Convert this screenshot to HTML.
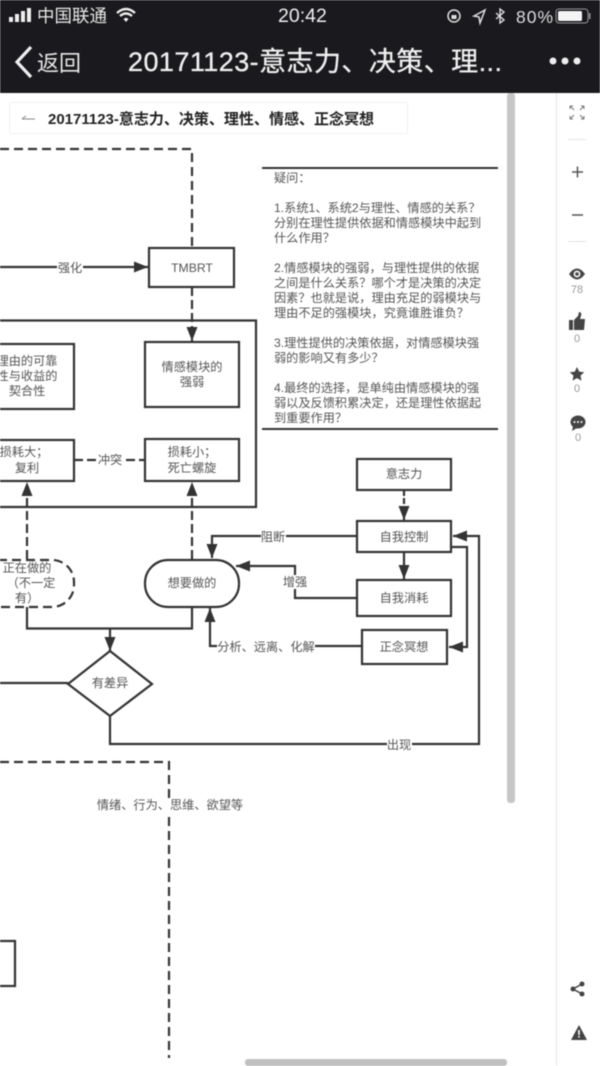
<!DOCTYPE html>
<html lang="zh"><head><meta charset="utf-8"><title>20171123</title>
<style>
html,body{margin:0;padding:0;background:#fff}
body{width:600px;height:1066px;overflow:hidden}
svg{display:block;filter:blur(.45px)}
text{font-family:"Liberation Sans","Noto Sans CJK SC",sans-serif}
</style></head><body>
<svg width="600" height="1066" viewBox="0 0 600 1066" xmlns="http://www.w3.org/2000/svg">
<defs>
<marker id="a" markerWidth="16" markerHeight="12" refX="14" refY="5.500" orient="auto" markerUnits="userSpaceOnUse"><path d="M0 0L14 5.500L0 11Z" fill="#333"/></marker>
</defs>
<rect width="600" height="1066" fill="#fff"/>
<!-- header -->
<rect width="600" height="93" fill="#1a1a1e"/>
<rect x="9" y="17" width="4" height="5" fill="#eee"/><rect x="15" y="14" width="4" height="8" fill="#eee"/><rect x="21" y="11" width="4" height="11" fill="#eee"/><rect x="27" y="8" width="4" height="14" fill="#eee"/>
<text x="37" y="22" font-size="17.500" fill="#e8e8e8">中国联通</text>
<path d="M117 13q9-8 18 0M120 16q6-5 12 0" fill="none" stroke="#eee" stroke-width="2.400"/><path d="M123.500 19q2.500-2.500 5 0l-2.500 3z" fill="#eee"/>
<text x="278" y="22" font-size="19.500" fill="#eee">20:42</text>
<circle cx="454" cy="16" r="6" fill="none" stroke="#ddd" stroke-width="1.500"/><rect x="451.500" y="15" width="5" height="4" fill="#ddd"/>
<path d="M485 10L474 16l5 1 1 6z" fill="none" stroke="#ddd" stroke-width="1.500"/>
<path d="M496 13l8 7-4 3V9l4 3-8 7" fill="none" stroke="#ddd" stroke-width="1.400"/>
<text x="516" y="23" font-size="17.500" fill="#ddd" textLength="37" lengthAdjust="spacing">80%</text>
<rect x="556" y="9" width="32" height="14" rx="3" fill="none" stroke="#999" stroke-width="1"/><rect x="558" y="11" width="24" height="10" rx="1.500" fill="#f4f4f4"/><rect x="589" y="13" width="1.500" height="6" fill="#999"/>
<path d="M31 47L17 62l14 15" fill="none" stroke="#eee" stroke-width="3.200"/>
<text x="37" y="71" font-size="22" fill="#e6e6e6">返回</text>
<text x="128" y="71" font-size="27" fill="#f0f0f0" stroke="#f0f0f0" stroke-width=".3" textLength="374" lengthAdjust="spacing">20171123-意志力、决策、理...</text>
<circle cx="553" cy="61" r="3.500" fill="#eee"/><circle cx="565" cy="61" r="3.500" fill="#eee"/><circle cx="577" cy="61" r="3.500" fill="#eee"/>
<!-- title card -->
<rect x="9.500" y="102.500" width="398" height="31" rx="2" fill="#fff" stroke="#efefef"/>
<path d="M22 119h13M22 119l4-3" fill="none" stroke="#888" stroke-width="1"/>
<text x="48" y="124" font-size="15" font-weight="bold" fill="#222" textLength="326" lengthAdjust="spacing">20171123-意志力、决策、理性、情感、正念冥想</text>
<!-- scrollbars and rail -->
<rect x="507" y="93" width="8" height="710" rx="3" fill="#c6c6c6"/>
<rect x="245" y="1059" width="262" height="7" rx="3" fill="#c0c0c0"/>
<rect x="556" y="93" width="1" height="973" fill="#e6e6e6"/>
<!-- connectors -->
<g fill="none" stroke="#333" stroke-width="2.200">
<path d="M0 149H192V248" stroke-dasharray="9 5"/>
<path d="M0 267H148" marker-end="url(#a)"/>
<path d="M192 287V341" stroke-dasharray="9 4" marker-end="url(#a)"/>
<path d="M0 320.500H256V507H0"/>
<path d="M74 460H145" stroke-dasharray="9 4"/>
<path d="M27 559V482" stroke-dasharray="9 4" marker-end="url(#a)"/>
<path d="M192 559V482" stroke-dasharray="9 4" marker-end="url(#a)"/>
<path d="M27 607V628.500H192V607"/>
<path d="M110 628V651" marker-end="url(#a)"/>
<path d="M0 683H68"/>
<path d="M110 716V744H479V536H453" marker-end="url(#a)"/>
<path d="M404 490V520" stroke-dasharray="6 2" marker-end="url(#a)"/>
<path d="M404 552V579" marker-end="url(#a)"/>
<path d="M357 536H212V558" marker-end="url(#a)"/>
<path d="M357 598H295V566H236" marker-end="url(#a)"/>
<path d="M362 646H210V608" marker-end="url(#a)"/>
<path d="M451 547H467V647H449" marker-end="url(#a)"/>
<path d="M0 762H169V1058" stroke-dasharray="9 5"/>
<path d="M262 168H498M262 429H498" stroke-width="2"/>
</g>
<!-- nodes -->
<g fill="#fff" stroke="#333" stroke-width="2.200">
<rect x="149" y="248" width="85" height="39"/>
<rect x="145" y="342" width="94" height="65"/>
<rect x="-10" y="344" width="84" height="65"/>
<rect x="-10" y="440" width="84" height="41"/>
<rect x="145" y="439" width="94" height="42"/>
<rect x="-24" y="560" width="98" height="47" rx="22" stroke-dasharray="9 5"/>
<rect x="145" y="560" width="94" height="47" rx="23"/>
<path d="M110 651L152 684L110 716L68 684Z"/>
<rect x="357" y="459" width="94" height="31"/>
<rect x="357" y="521" width="94" height="31"/>
<rect x="357" y="580" width="94" height="36"/>
<rect x="362" y="630" width="85" height="34"/>
<rect x="-10" y="941" width="25" height="45"/>
</g>
<!-- labels -->
<g font-size="12.200" fill="#555" text-anchor="middle">
<g><rect x="57" y="260" width="26" height="14" fill="#fff"/><text x="70" y="272">强化</text></g>
<text x="192" y="272">TMBRT</text>
<text x="192" y="371">情感模块的</text><text x="192" y="386">强弱</text>
<text x="27" y="365">理由的可靠</text><text x="27" y="380">性与收益的</text><text x="27" y="395">契合性</text>
<text x="24" y="456">损耗大；</text><text x="27" y="472">复利</text>
<text x="192" y="456">损耗小；</text><text x="192" y="472">死亡螺旋</text>
<rect x="97" y="453" width="26" height="14" fill="#fff"/><text x="110" y="464">冲突</text>
<text x="27" y="572">正在做的</text><text x="31" y="587">（不一定</text><text x="27" y="602">有）</text>
<text x="192" y="587">想要做的</text>
<text x="110" y="687">有差异</text>
<text x="404" y="478">意志力</text>
<text x="404" y="541">自我控制</text>
<text x="404" y="602">自我消耗</text>
<text x="404" y="651">正念冥想</text>
<rect x="261" y="529" width="25" height="14" fill="#fff"/><text x="273" y="541">阻断</text>
<rect x="283" y="575" width="25" height="14" fill="#fff"/><text x="295" y="586">增强</text>
<rect x="217" y="639" width="98" height="14" fill="#fff"/><text x="266" y="651">分析、远离、化解</text>
<rect x="387" y="737" width="25" height="14" fill="#fff"/><text x="399" y="749">出现</text>
<rect x="97" y="798" width="146" height="14" fill="#fff"/><text x="170" y="809">情绪、行为、思维、欲望等</text>
</g>
<!-- questions -->
<g font-size="12.200" fill="#555">
<text x="274" y="182">疑问：</text>
<text x="274" y="212">1.系统1、系统2与理性、情感的关系？</text>
<text x="274" y="227">分别在理性提供依据和情感模块中起到</text>
<text x="274" y="242">什么作用？</text>
<text x="274" y="272">2.情感模块的强弱，与理性提供的依据</text>
<text x="274" y="287">之间是什么关系？哪个才是决策的决定</text>
<text x="274" y="302">因素？也就是说，理由充足的弱模块与</text>
<text x="274" y="317">理由不足的强模块，究竟谁胜谁负？</text>
<text x="274" y="347">3.理性提供的决策依据，对情感模块强</text>
<text x="274" y="362">弱的影响又有多少？</text>
<text x="274" y="392">4.最终的选择，是单纯由情感模块的强</text>
<text x="274" y="407">弱以及反馈积累决定，还是理性依据起</text>
<text x="274" y="422">到重要作用？</text>
</g>
<!-- right rail -->
<g fill="none" stroke="#777" stroke-width="1">
<path d="M570 106l4 4M570 106h3M570 106v3M584 106l-4 4M584 106h-3M584 106v3M570 119l4-4M570 119h3M570 119v-3M584 119l-4-4M584 119h-3M584 119v-3"/>
</g>
<rect x="568" y="139" width="18" height="1" fill="#e2e2e2"/>
<rect x="568" y="241" width="18" height="1" fill="#e2e2e2"/>
<path d="M572 172h11M577.500 166.500v11M572 215h11" stroke="#555" stroke-width="1.500" fill="none"/>
<path d="M569 274q8-11 16 0q-8 11-16 0z" fill="#444"/><circle cx="577" cy="274" r="3.400" fill="#fff"/><circle cx="577" cy="274" r="1.800" fill="#444"/>
<path d="M569 320h4v10h-4zM574 320l4-4 1-4q3 0 2 4l-1 3h5l-1 11h-10z" fill="#444"/>
<path d="M577 367l2.200 4.600 5 .6-3.700 3.400 1 5-4.500-2.500-4.500 2.500 1-5-3.700-3.400 5-.6z" fill="#444"/>
<ellipse cx="578" cy="422" rx="7.500" ry="6.500" fill="#444"/><path d="M573 426l-1 5 5-3z" fill="#444"/><circle cx="574.500" cy="422" r="1" fill="#fff"/><circle cx="578" cy="422" r="1" fill="#fff"/><circle cx="581.500" cy="422" r="1" fill="#fff"/>
<g font-size="11" fill="#999" text-anchor="middle">
<text x="577" y="293">78</text><text x="577" y="342">0</text><text x="577" y="392">0</text><text x="578" y="441">0</text>
</g>
<path d="M582 984l-9 5 9 5" fill="none" stroke="#444" stroke-width="1.500"/><circle cx="582" cy="984" r="2.500" fill="#444"/><circle cx="573" cy="989" r="2.500" fill="#444"/><circle cx="582" cy="994" r="2.500" fill="#444"/>
<path d="M579 1025l8 15h-16z" fill="#444"/><rect x="578.200" y="1030" width="1.600" height="5" fill="#fff"/><rect x="578.200" y="1036" width="1.600" height="1.600" fill="#fff"/>
</svg>
</body></html>
